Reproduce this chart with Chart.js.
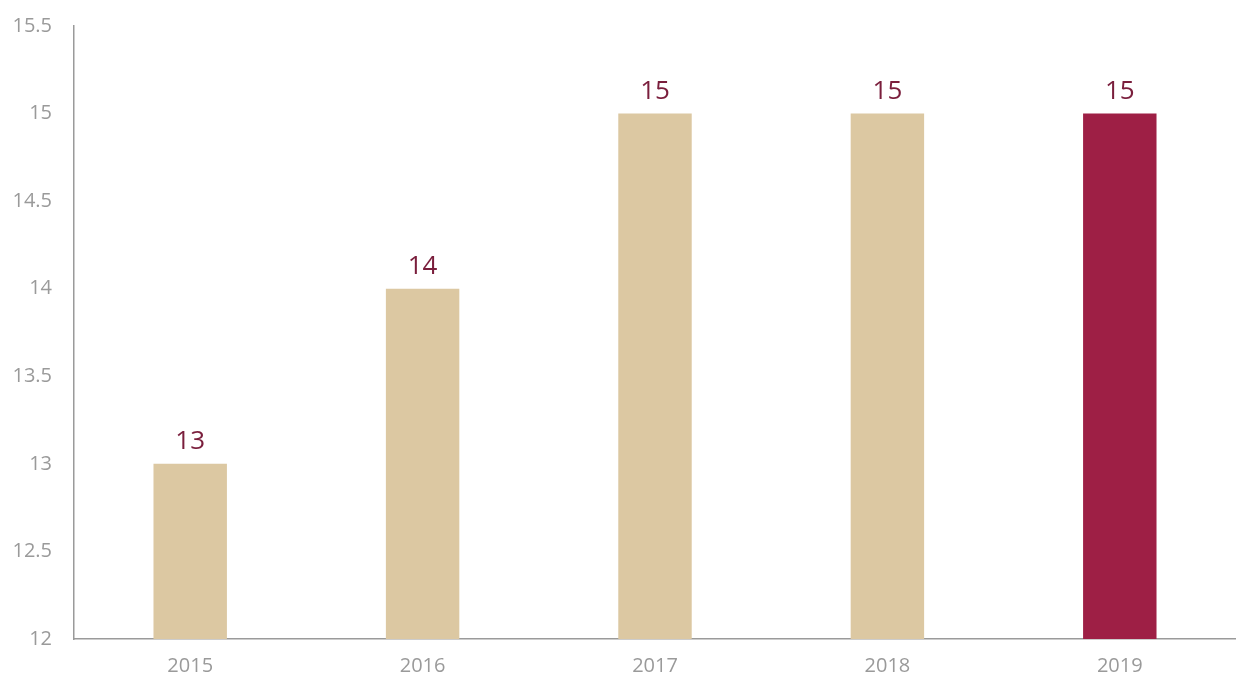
<!DOCTYPE html>
<html>
<head>
<meta charset="utf-8">
<script src="https://cdn.jsdelivr.net/npm/chart.js@4"></script>
<style>
  html, body { margin: 0; padding: 0; background: #fff; }
  #wrap { width: 1236px; height: 677px; position: relative; }
</style>
</head>
<body>
<div id="wrap"><canvas id="chart"></canvas></div>
<script>
  'use strict'

  // datos
  var years = ['2015', '2016', '2017', '2018', '2019']
  var values = [13, 14, 15, 15, 15]
  var barColors = ['#dcc8a2', '#dcc8a2', '#dcc8a2', '#dcc8a2', '#9e1f45']

  // etiquetas encima de cada barra
  var barLabels = {
    id: 'barLabels',
    afterDatasetsDraw: function (chart) {
      var ctx = chart.ctx
      var meta = chart.getDatasetMeta(0)
      ctx.save()
      ctx.font = '26px "Open Sans"'
      ctx.fillStyle = '#7a1e3c'
      ctx.textAlign = 'center'
      ctx.textBaseline = 'bottom'
      meta.data.forEach(function (bar, i) {
        ctx.fillText(values[i], bar.x, bar.y - 9)
      })
      ctx.restore()
    }
  }

  var ctx = document.getElementById('chart').getContext('2d')
  var chart = new Chart(ctx, {
    type: 'bar',
    data: {
      labels: years,
      datasets: [{
        data: values,
        backgroundColor: barColors,
        borderWidth: 0,
        categoryPercentage: 1,
        barPercentage: 0.316
      }]
    },
    options: {
      responsive: true,
      maintainAspectRatio: false,
      animation: false,
      layout: { padding: { top: 26, right: -8, left: 0, bottom: 0 } },
      plugins: {
        legend: { display: false },
        tooltip: { enabled: false }
      },
      scales: {
        x: {
          grid: { display: false, drawTicks: false },
          border: { color: '#9a9a9a', width: 1.5 },
          ticks: { color: '#9a9a9a', font: { family: 'Open Sans', size: 20 }, padding: 15 },
          afterFit: function (s) {
            s.height = 38
            s.paddingLeft = 0
            s.paddingRight = 0
          }
        },
        y: {
          min: 12,
          max: 15.5,
          grid: { display: false, drawTicks: false },
          border: { color: '#9a9a9a', width: 1.5 },
          ticks: {
            stepSize: 0.5,
            color: '#9a9a9a',
            font: { family: 'Open Sans', size: 20 },
            padding: 22,
            callback: function (v) { return String(v) }
          },
          afterFit: function (s) {
            s.width = 74
            s.paddingTop = 0
            s.paddingBottom = 0
          }
        }
      }
    },
    plugins: [barLabels]
  })
</script>
</body>
</html>
